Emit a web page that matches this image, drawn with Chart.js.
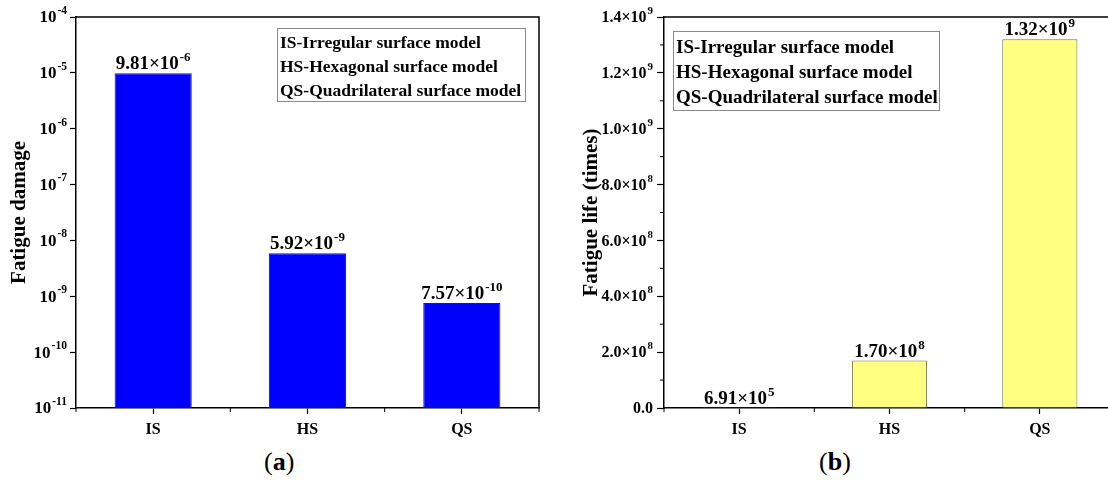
<!DOCTYPE html>
<html>
<head>
<meta charset="utf-8">
<script src="https://cdn.jsdelivr.net/npm/chart.js@4.4.1/dist/chart.umd.min.js"></script>
<style>
  html, body { margin: 0; padding: 0; background: #fff; overflow: hidden; }
  body { width: 1108px; height: 488px; position: relative; }
  .panel { position: absolute; top: 0; height: 440px; }
  #panelA { left: 0; width: 554px; }
  #panelB { left: 554px; width: 620px; }
  .caption { position: absolute; top: 447px; font-family: "Liberation Serif", serif; font-size: 26px; color: #000; }
</style>
</head>
<body>
<div class="panel" id="panelA"><canvas id="chartA"></canvas></div>
<div class="panel" id="panelB"><canvas id="chartB"></canvas></div>
<div class="caption" style="left:264px">(<b>a</b>)</div>
<div class="caption" style="left:819px">(<b>b</b>)</div>

<script>
const categories = ["IS", "HS", "QS"];

// (a) fatigue damage, log axis ("^" marks the exponent)
const damageValues = [9.81e-6, 5.92e-9, 7.57e-10];
const damageLabels = ["9.81×10^-6", "5.92×10^-9", "7.57×10^-10"];
const damageTickValues = [1e-11, 1e-10, 1e-9, 1e-8, 1e-7, 1e-6, 1e-5, 1e-4];
const damageTickLabels = ["10^-11", "10^-10", "10^-9", "10^-8", "10^-7", "10^-6", "10^-5", "10^-4"];

// (b) fatigue life
const lifeValues = [6.91e5, 1.70e8, 1.32e9];
const lifeLabels = ["6.91×10^5", "1.70×10^8", "1.32×10^9"];
const lifeTickValues = [0, 2e8, 4e8, 6e8, 8e8, 1.0e9, 1.2e9, 1.4e9];
const lifeTickLabels = ["0.0", "2.0×10^8", "4.0×10^8", "6.0×10^8", "8.0×10^8", "1.0×10^9", "1.2×10^9", "1.4×10^9"];
const lifeMinorTicks = [1e8, 3e8, 5e8, 7e8, 9e8, 1.1e9, 1.3e9];

const legendLines = [
  "IS-Irregular surface model",
  "HS-Hexagonal surface model",
  "QS-Quadrilateral surface model"
];

const SERIF = "'Liberation Serif', 'Times New Roman', serif";

// text with a raised exponent after "^"
function drawSup(ctx, text, x, y, align, size, supSize, rise) {
  const parts = text.split("^");
  ctx.font = "bold " + size + "px " + SERIF;
  const wBase = ctx.measureText(parts[0]).width;
  let wExp = 0;
  if (parts[1]) {
    ctx.font = "bold " + supSize + "px " + SERIF;
    wExp = ctx.measureText(parts[1]).width + 1;
  }
  const total = wBase + wExp;
  let x0 = x;
  if (align === "center") x0 = x - total / 2;
  else if (align === "right") x0 = x - total;
  ctx.textAlign = "left";
  ctx.font = "bold " + size + "px " + SERIF;
  ctx.fillText(parts[0], x0, y);
  if (parts[1]) {
    ctx.font = "bold " + supSize + "px " + SERIF;
    ctx.fillText(parts[1], x0 + wBase + 1, y - rise);
  }
}

// frame, minor ticks, tick labels, value labels and text box
function decorPlugin(opts) {
  return {
    id: "decor",
    afterDraw(chart) {
      const ctx = chart.ctx;
      const a = chart.chartArea;
      const xs = chart.scales.x;
      const ys = chart.scales.y;
      ctx.save();
      ctx.strokeStyle = "#000";
      ctx.lineWidth = 1.5;
      ctx.beginPath();
      ctx.moveTo(a.left, a.top);
      ctx.lineTo(a.right, a.top);
      if (opts.frameRight) ctx.lineTo(a.right, a.bottom);
      ctx.stroke();

      // minor ticks
      ctx.lineWidth = 1;
      ctx.beginPath();
      const step = xs.getPixelForValue(1) - xs.getPixelForValue(0);
      for (let i = 0; i <= categories.length; i++) {
        const px = xs.getPixelForValue(0) - step / 2 + i * step;
        ctx.moveTo(px, a.bottom);
        ctx.lineTo(px, a.bottom + 4);
      }
      (opts.yMinor || []).forEach(v => {
        const py = ys.getPixelForValue(v);
        ctx.moveTo(a.left, py);
        ctx.lineTo(a.left - 4, py);
      });
      ctx.stroke();

      ctx.fillStyle = "#000";
      ctx.textBaseline = "middle";
      // y tick labels
      ys.ticks.forEach((t, i) => {
        const py = ys.getPixelForValue(t.value);
        drawSup(ctx, opts.tickLabels[i], a.left - opts.tickGap, py + 1, "right",
          opts.tickSize, opts.tickSize * 0.68, opts.tickSize * 0.42);
      });

      // value labels
      ctx.textBaseline = "alphabetic";
      const meta = chart.getDatasetMeta(0);
      meta.data.forEach((bar, i) => {
        drawSup(ctx, opts.valueLabels[i], bar.x, bar.y - 4, "center", 19, 13, 8);
      });

      // text box
      const b = opts.box;
      ctx.strokeStyle = "#8a8a8a";
      ctx.lineWidth = 1;
      ctx.strokeRect(b.x + 0.5, b.y + 0.5, b.w, b.h);
      ctx.font = "bold " + b.size + "px " + SERIF;
      ctx.textAlign = "left";
      legendLines.forEach((t, i) => {
        ctx.fillText(t, b.x + 3, b.y + b.first + i * b.gap);
      });
      ctx.restore();
    }
  };
}

function baseX() {
  return {
    type: "category",
    offset: true,
    grid: { drawOnChartArea: false, offset: false, tickLength: 6, tickColor: "#000", tickWidth: 1.2 },
    border: { color: "#000", width: 1.5 },
    ticks: { color: "#000", font: { family: SERIF, size: 16, weight: "bold" }, padding: 6 },
    afterFit(scale) { scale.height = 32; }
  };
}

function baseY(width, tickLength, titleText, titlePad) {
  return {
    afterFit(scale) { scale.width = width; },
    grid: { drawOnChartArea: false, tickLength: tickLength, tickColor: "#000", tickWidth: 1.2 },
    border: { color: "#000", width: 1.5 },
    ticks: { display: false },
    title: {
      display: true,
      text: titleText,
      color: "#000",
      font: { family: SERIF, size: 21, weight: "bold" },
      padding: { top: titlePad, bottom: 0 }
    }
  };
}

const yDamage = Object.assign(baseY(76, 6, "Fatigue damage", 7), {
  type: "logarithmic",
  min: 1e-11,
  max: 1e-4,
  afterBuildTicks(scale) { scale.ticks = damageTickValues.map(v => ({ value: v })); }
});

const yLife = Object.assign(baseY(110, 7, "Fatigue life (times)", 25), {
  type: "linear",
  min: 0,
  max: 1.4e9,
  afterBuildTicks(scale) { scale.ticks = lifeTickValues.map(v => ({ value: v })); }
});

new Chart(document.getElementById("chartA"), {
  type: "bar",
  data: {
    labels: categories,
    datasets: [{
      data: damageValues,
      backgroundColor: "#0000ff",
      borderColor: "#1c1c7a",
      borderWidth: 1,
      barPercentage: 0.5,
      categoryPercentage: 1
    }]
  },
  options: {
    responsive: true,
    maintainAspectRatio: false,
    animation: false,
    layout: { padding: { top: 17, right: 15, left: 0, bottom: 0 } },
    plugins: { legend: { display: false }, tooltip: { enabled: false } },
    scales: { x: baseX(), y: yDamage }
  },
  plugins: [decorPlugin({
    valueLabels: damageLabels,
    tickLabels: damageTickLabels,
    tickSize: 17,
    tickGap: 9,
    frameRight: true,
    box: { x: 277, y: 28, w: 248, h: 73, size: 17.5, first: 20, gap: 24 }
  })]
});

new Chart(document.getElementById("chartB"), {
  type: "bar",
  data: {
    labels: categories,
    datasets: [{
      data: lifeValues,
      backgroundColor: "#ffff80",
      borderColor: "#77774a",
      borderWidth: 1,
      barPercentage: 0.5,
      categoryPercentage: 1
    }]
  },
  options: {
    responsive: true,
    maintainAspectRatio: false,
    animation: false,
    layout: { padding: { top: 17, right: 59, left: 0, bottom: 0 } },
    plugins: { legend: { display: false }, tooltip: { enabled: false } },
    scales: { x: baseX(), y: yLife }
  },
  plugins: [decorPlugin({
    valueLabels: lifeLabels,
    tickLabels: lifeTickLabels,
    tickSize: 16,
    tickGap: 11,
    frameRight: false,
    yMinor: lifeMinorTicks,
    box: { x: 673 - 554, y: 31, w: 266, h: 79, size: 19, first: 22, gap: 25 }
  })]
});
</script>
</body>
</html>
